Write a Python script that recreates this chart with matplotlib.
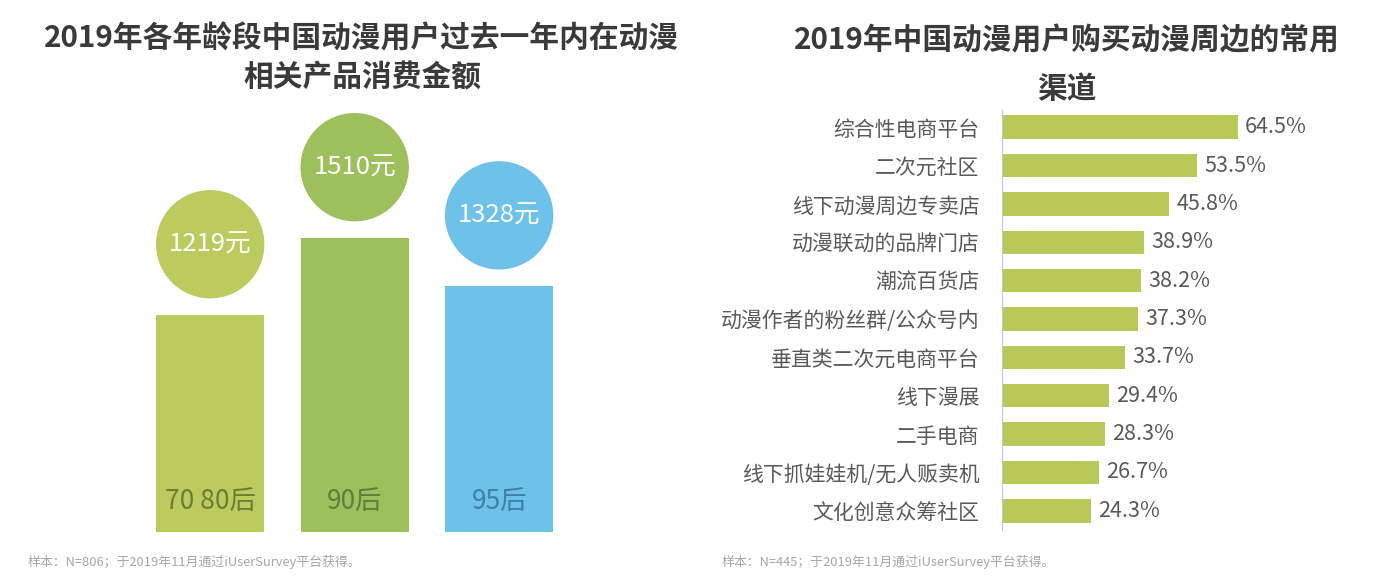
import numpy as np
import matplotlib
matplotlib.use("Agg")
import matplotlib.pyplot as plt

plt.rcParams["font.family"] = ["Noto Sans CJK SC", "DejaVu Sans"]

# left chart data
ages = ["70 80后", "90后", "95后"]
spend = [1219, 1510, 1328]
bar_colors = ["#bccb5e", "#9dbf5c", "#6ec1e8"]
age_colors = ["#6f7a36", "#5f7c3c", "#3d7fa8"]

# right chart data
channels = ["综合性电商平台", "二次元社区", "线下动漫周边专卖店", "动漫联动的品牌门店",
            "潮流百货店", "动漫作者的粉丝群/公众号内", "垂直类二次元电商平台", "线下漫展",
            "二手电商", "线下抓娃娃机/无人贩卖机", "文化创意众筹社区"]
shares = [64.5, 53.5, 45.8, 38.9, 38.2, 37.3, 33.7, 29.4, 28.3, 26.7, 24.3]

fig = plt.figure(figsize=(13.98, 5.81), dpi=100)
fig.patch.set_facecolor("white")

# ---- left: spending by age group
ax1 = fig.add_axes([0.0987, 0.0843, 0.31, 0.719])
x = np.arange(len(ages))
ax1.bar(x, spend, width=0.75, color=bar_colors)
ax1.set_xlim(-0.5, 2.5)
ax1.set_ylim(400, 1978)
ax1.axis("off")

# circles sit above each bar top
ax1.scatter(x, spend, s=77 ** 2, c=bar_colors, clip_on=False, zorder=3,
            transform=ax1.transData + matplotlib.transforms.ScaledTranslation(0, 0.71, fig.dpi_scale_trans))
for xi, v in zip(x, spend):
    ax1.annotate(f"{v}元", (xi, v), xytext=(0, 51), textcoords="offset points",
                 ha="center", va="center", color="white", fontsize=18.5, zorder=4,
                 annotation_clip=False)
for xi, lab, c in zip(x, ages, age_colors):
    ax1.text(xi, 0.072, lab, transform=ax1.get_xaxis_transform(), ha="center",
             va="center", fontsize=19, color=c)

fig.text(362 / 1398, 1 - 38 / 581, "2019年各年龄段中国动漫用户过去一年内在动漫",
         ha="center", va="center", fontsize=21.4, fontweight="bold", color="#3a3a3a")
fig.text(362 / 1398, 1 - 77 / 581, "相关产品消费金额",
         ha="center", va="center", fontsize=21.4, fontweight="bold", color="#3a3a3a")
fig.text(28 / 1398, 1 - 562 / 581, "样本：N=806；于2019年11月通过iUserSurvey平台获得。",
         ha="left", va="center", fontsize=9.3, color="#a6a6a6")

# ---- right: purchase channels
ax2 = fig.add_axes([0.7167, 0.0878, 0.209, 0.723])
y = np.arange(len(channels))
ax2.barh(y, shares, height=0.61, color="#b8c95a")
ax2.set_xlim(0, 80)
ax2.set_ylim(10.5, -0.45)
ax2.set_yticks(y)
ax2.set_yticklabels(channels, fontsize=15, color="#595959")
ax2.tick_params(axis="y", length=0, pad=16)
ax2.set_xticks([])
for s in ["top", "right", "bottom"]:
    ax2.spines[s].set_visible(False)
ax2.spines["left"].set_color("#c8c8c8")
for yi, v in zip(y, shares):
    ax2.annotate(f"{v}%", (v, yi), xytext=(5, 0), textcoords="offset points",
                 ha="left", va="center", fontsize=15.5, color="#595959")

fig.text(1067 / 1398, 1 - 40 / 581, "2019年中国动漫用户购买动漫周边的常用",
         ha="center", va="center", fontsize=21.4, fontweight="bold", color="#3a3a3a")
fig.text(1067 / 1398, 1 - 89 / 581, "渠道",
         ha="center", va="center", fontsize=21.4, fontweight="bold", color="#3a3a3a")
fig.text(722 / 1398, 1 - 562 / 581, "样本：N=445；于2019年11月通过iUserSurvey平台获得。",
         ha="left", va="center", fontsize=9.3, color="#a6a6a6")

fig.savefig("out.png", dpi=100)
